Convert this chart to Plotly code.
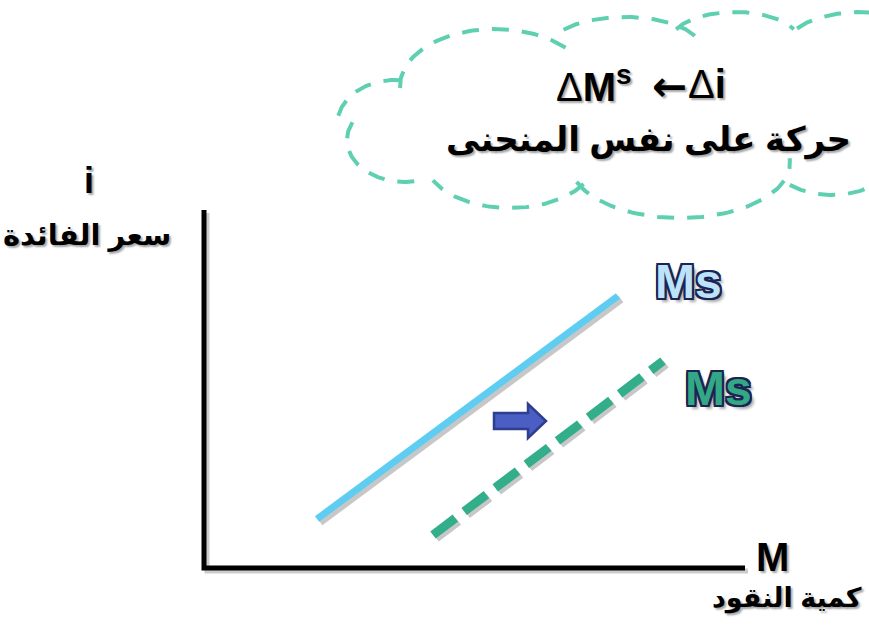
import numpy as np
import plotly.graph_objects as go

# ---- data (quantity of money M, interest rate i) ----
ms_old_M = [2.26, 8.28]
ms_old_i = [0.98, 5.44]
ms_new_M = [4.58, 9.18]
ms_new_i = [0.66, 4.14]
axis_M_max = 10.82
axis_i_max = 7.16

title_left = "Δ<b>M<sup>s</sup></b>"
title_arrow = "<b>←</b>"
title_right = "Δ<b>i</b>"
title_line2 = "<b>حركة على نفس المنحنى</b>"
y_label_sym = "<b>i</b>"
y_label_txt = "<b>سعر الفائدة</b>"
x_label_sym = "<b>M</b>"
x_label_txt = "<b>كمية النقود</b>"
curve_label = "<b>Ms</b>"

# ---- page geometry helpers (pixel -> data), 50 px per unit, origin at axis corner ----
W, H = 869, 628
OX, OY, S = 204, 568, 50.0
def px(x):
    return (np.asarray(x, dtype=float) - OX) / S
def py(y):
    return (OY - np.asarray(y, dtype=float)) / S

FONT = "Arial, Liberation Sans, DejaVu Sans, sans-serif"
fig = go.Figure()

sh = 0.06  # shadow offset in data units
# shadows
fig.add_trace(go.Scatter(x=np.array(ms_old_M) + sh, y=np.array(ms_old_i) - sh, mode="lines",
                         line=dict(color="rgba(0,0,0,0.22)", width=8), hoverinfo="skip", showlegend=False))
fig.add_trace(go.Scatter(x=np.array(ms_new_M) + sh, y=np.array(ms_new_i) - sh, mode="lines",
                         line=dict(color="rgba(0,0,0,0.22)", width=9, dash="28px,11px"), hoverinfo="skip", showlegend=False))
# axis shadows
fig.add_trace(go.Scatter(x=[0.06, 0.06, axis_M_max + 0.06], y=[axis_i_max - 0.06, -0.06, -0.06], mode="lines",
                         line=dict(color="rgba(0,0,0,0.2)", width=5), hoverinfo="skip", showlegend=False))
# axes
fig.add_trace(go.Scatter(x=[0, 0, axis_M_max], y=[axis_i_max, 0, 0], mode="lines",
                         line=dict(color="black", width=5), hoverinfo="skip", showlegend=False))
# curves
fig.add_trace(go.Scatter(x=ms_old_M, y=ms_old_i, mode="lines",
                         line=dict(color="#5FCDF2", width=7), hoverinfo="skip", showlegend=False))
fig.add_trace(go.Scatter(x=ms_new_M, y=ms_new_i, mode="lines",
                         line=dict(color="#33AE8A", width=9, dash="28px,11px"), hoverinfo="skip", showlegend=False))

# ---- dashed cloud (decoration), built from ellipse arcs in page pixels ----
arcs = [
    (405, 140, 58, 42, 205, 70),
    (395, 125, 58, 45, 192, 278),
    (495, 86, 95, 57, 178, 322),
    (625, 47, 75, 30, 215, 340),
    (735, 42, 65, 30, 205, 335),
    (862, 45, 75, 33, 210, 300),
    (832, 160, 60, 35, 20, 150),
    (680, 163, 110, 55, 160, -5),
    (510, 160, 85, 48, 30, 155),
]
for cx, cy, rx, ry, t0, t1 in arcs:
    t = np.radians(np.linspace(t0, t1, 80))
    fig.add_trace(go.Scatter(x=px(cx + rx * np.cos(t)), y=py(cy + ry * np.sin(t)), mode="lines",
                             line=dict(color="#5ED0B1", width=4, dash="17px,13px"),
                             hoverinfo="skip", showlegend=False))

# ---- block arrow (shift to the right) ----
ax0, ax1, ax2 = px(494), px(528), px(546)
ay_c, ay_s, ay_h = py(421), 8 / S, 17 / S
arrow_path = (f"M{ax0},{ay_c+ay_s} L{ax1},{ay_c+ay_s} L{ax1},{ay_c+ay_h} L{ax2},{ay_c} "
              f"L{ax1},{ay_c-ay_h} L{ax1},{ay_c-ay_s} L{ax0},{ay_c-ay_s} Z")
fig.add_shape(type="path", path=arrow_path, xref="x", yref="y",
              fillcolor="#4A5EC4", line=dict(color="#2F3F8F", width=2.5))

# ---- texts ----
def outline(c, w=2):
    parts = []
    for dx in (-w, 0, w):
        for dy in (-w, 0, w):
            if dx or dy:
                parts.append(f"{dx}px {dy}px 0 {c}")
    parts.append("4px 4px 3px rgba(0,0,0,0.35)")
    return ", ".join(parts)

txt_shadow = "2px 2px 2px rgba(0,0,0,0.35)"
def add_text(x, y, text, size, color="black", shadow=txt_shadow, anchor="center", family=FONT):
    fig.add_annotation(x=px(x), y=py(y), text=text, showarrow=False, xref="x", yref="y",
                       font=dict(family=family, size=size, color=color, shadow=shadow),
                       xanchor=anchor, yanchor="middle")

add_text(634, 84, title_left, 40, anchor="right")
add_text(669, 86, title_arrow, 42, family="DejaVu Sans, sans-serif")
add_text(686, 84, title_right, 40, anchor="left")
add_text(648, 140, title_line2, 34)
add_text(89, 180, y_label_sym, 36)
add_text(87, 235, y_label_txt, 29)
add_text(772, 557, x_label_sym, 40)
add_text(787, 598, x_label_txt, 27)
add_text(688, 281, curve_label, 48, color="#BDE3FA", shadow=outline("#1C2453"))
add_text(718, 388, curve_label, 48, color="#33A885", shadow=outline("#1C2453"))

fig.update_layout(
    width=W, height=H, margin=dict(l=0, r=0, t=0, b=0),
    paper_bgcolor="white", plot_bgcolor="white", showlegend=False,
    xaxis=dict(range=[px(0), px(W)], visible=False, fixedrange=True),
    yaxis=dict(range=[py(H), py(0)], visible=False, fixedrange=True),
)
fig.write_html("out.html")
